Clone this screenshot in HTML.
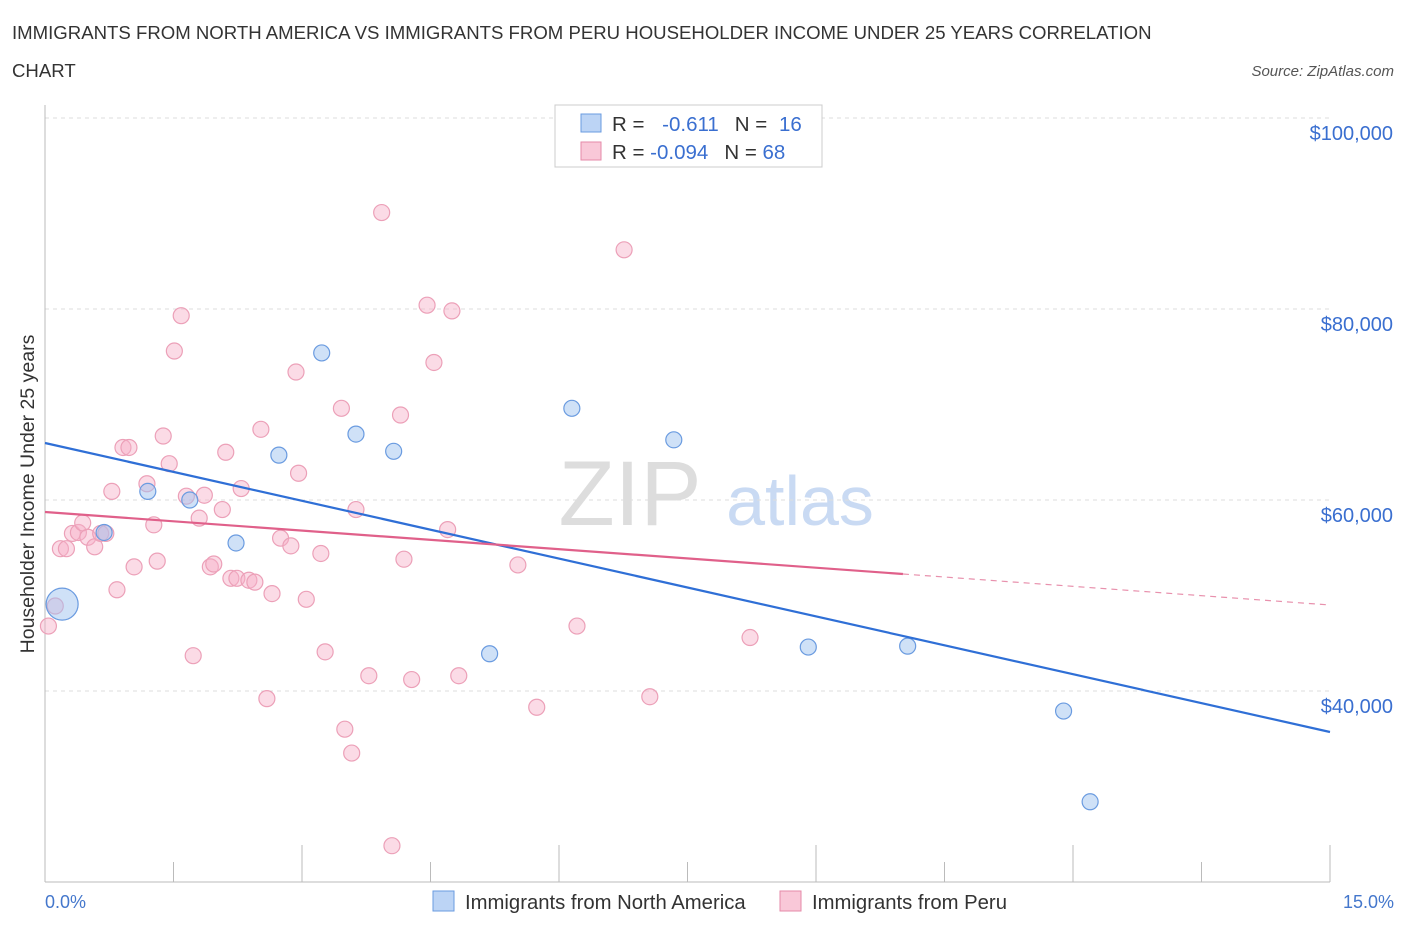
<!DOCTYPE html>
<html><head><meta charset="utf-8"><style>
body{margin:0;background:#fff;font-family:"Liberation Sans",sans-serif}
svg text{font-family:"Liberation Sans",sans-serif}
</style></head><body>
<svg id="chart" width="1406" height="930" xmlns="http://www.w3.org/2000/svg">
<text x="12" y="39" font-size="18.6" fill="#333">IMMIGRANTS FROM NORTH AMERICA VS IMMIGRANTS FROM PERU HOUSEHOLDER INCOME UNDER 25 YEARS CORRELATION</text>
<text x="12" y="77" font-size="18.6" fill="#333">CHART</text>
<text x="1394" y="76" font-size="15" fill="#555" font-style="italic" text-anchor="end">Source: ZipAtlas.com</text>
<text x="630" y="525" font-size="92" fill="#ddd" font-family="Liberation Serif" text-anchor="middle">ZIP</text>
<text x="800" y="525" font-size="70" fill="#c9daf3" text-anchor="middle">atlas</text>
<g id="grid"></g><g id="axes"></g><g id="marks"></g>
<text transform="translate(34,494) rotate(-90)" font-size="19.5" fill="#333" text-anchor="middle">Householder Income Under 25 years</text>
<text x="45" y="908" font-size="18" fill="#4477cc">0.0%</text>
<text x="1394" y="908" font-size="18" fill="#4477cc" text-anchor="end">15.0%</text>
<g>
<rect x="555" y="105" width="267" height="62" fill="#fff" stroke="#ccc"/>
<rect x="581" y="114" width="20" height="18" fill="#bcd4f5" stroke="#6a9be0"/>
<rect x="581" y="142" width="20" height="18" fill="#f9c8d8" stroke="#e58aa8"/>
<text x="612" y="131" font-size="20.5" fill="#333">R = <tspan fill="#3a6fd0" dx="12">-0.611</tspan><tspan dx="16" fill="#333">N = </tspan><tspan fill="#3a6fd0" dx="6">16</tspan></text>
<text x="612" y="159" font-size="20.5" fill="#333">R = <tspan fill="#3a6fd0">-0.094</tspan><tspan dx="16" fill="#333">N = </tspan><tspan fill="#3a6fd0">68</tspan></text>
</g>
<g>
<rect x="433" y="891" width="21" height="20" fill="#bcd4f5" stroke="#6a9be0"/>
<text x="465" y="909" font-size="20.3" fill="#333">Immigrants from North America</text>
<rect x="780" y="891" width="21" height="20" fill="#f9c8d8" stroke="#e58aa8"/>
<text x="812" y="909" font-size="20.3" fill="#333">Immigrants from Peru</text>
</g>
</svg>
<script>
const yTicks=[40000,60000,80000,100000];
const yTickLabels=["$40,000","$60,000","$80,000","$100,000"];
const blueX=[0.2,0.69,1.2,1.69,2.23,2.73,3.23,3.63,4.07,5.19,6.15,7.34,8.91,10.07,11.89,12.2];
const blueY=[49100,56600,60900,60000,55500,64700,75400,66900,65100,43900,69600,66300,44600,44700,37900,28400];
const blueSize=[16,8,8,8,8,8,8,8,8,8,8,8,8,8,8,8];
const pinkX=[0.04,0.12,0.18,0.25,0.32,0.39,0.44,0.5,0.58,0.65,0.71,0.78,0.84,0.91,0.98,1.04,1.19,1.27,1.31,1.38,1.45,1.51,1.59,1.65,1.73,1.8,1.86,1.93,1.97,2.07,2.11,2.17,2.24,2.29,2.38,2.45,2.52,2.59,2.65,2.75,2.87,2.93,2.96,3.05,3.22,3.27,3.46,3.5,3.58,3.63,3.78,3.93,4.05,4.15,4.19,4.28,4.46,4.54,4.7,4.75,4.83,5.52,5.74,6.21,6.76,7.06,8.23];
const pinkY=[46800,48900,54900,54900,56500,56600,57600,56100,55100,56500,56500,60900,50600,65500,65500,53000,61700,57400,53600,66700,63800,75600,79300,60400,43700,58100,60500,53000,53300,59000,65000,51800,51800,61200,51600,51400,67400,39200,50200,56000,55200,73400,62800,49600,54400,44100,69600,36000,33500,59000,41600,90100,23800,68900,53800,41200,80400,74400,56900,79800,41600,53200,38300,46800,86200,39400,45600];
const blueLine=[[0,65969],[15,35707]];
const pinkSolid=[[0,58743],[10.015,52251]];
const pinkDash=[[10.015,52251],[15,49005]];
const NS="http://www.w3.org/2000/svg";
const xs=p=>45+p*1285/15;
const ys=v=>691-(v-40000)*191/20000;
function mk(t,a,parent){const e=document.createElementNS(NS,t);for(const k in a)e.setAttribute(k,a[k]);document.getElementById(parent).appendChild(e);return e;}
yTicks.forEach((v,i)=>{
  const g=mk('line',{x1:45,x2:1330,y1:ys(v),y2:ys(v),stroke:'#ddd','stroke-dasharray':'4,4'},'grid');
  
  
  const t=mk('text',{x:1393,y:ys(v)+22,'font-size':20,fill:'#3a6fd0','text-anchor':'end'},'grid');
  t.textContent=yTickLabels[i];
  
  
});
const ax=mk('line',{x1:45,x2:1330,y1:882,y2:882,stroke:'#bbb'},'axes');


const ay=mk('line',{x1:45,x2:45,y1:105,y2:882,stroke:'#bbb'},'axes');


for(let i=0;i<=10;i++){const tk=mk('line',{x1:xs(i*1.5),x2:xs(i*1.5),y1:882,y2:i%2?862:845,stroke:'#bbb'},'axes');
  
  }
pinkX.forEach((x,i)=>{const c=mk('circle',{cx:xs(x),cy:ys(pinkY[i]),r:8,fill:'rgba(246,176,200,0.45)',stroke:'#eca0b8','stroke-width':1.2},'marks');
  
  });
blueX.forEach((x,i)=>{const c=mk('circle',{cx:xs(x),cy:ys(blueY[i]),r:blueSize[i],fill:'rgba(160,195,240,0.5)',stroke:'#6a9be0','stroke-width':1.2},'marks');
  
  });
const bl=mk('line',{x1:xs(blueLine[0][0]),y1:ys(blueLine[0][1]),x2:xs(blueLine[1][0]),y2:ys(blueLine[1][1]),stroke:'#2f6fd6','stroke-width':2.2},'marks');


const pl=mk('line',{x1:xs(pinkSolid[0][0]),y1:ys(pinkSolid[0][1]),x2:xs(pinkSolid[1][0]),y2:ys(pinkSolid[1][1]),stroke:'#e0608a','stroke-width':2.2},'marks');


const pd=mk('line',{x1:xs(pinkDash[0][0]),y1:ys(pinkDash[0][1]),x2:xs(pinkDash[1][0]),y2:ys(pinkDash[1][1]),stroke:'#e891ad','stroke-width':1.2,'stroke-dasharray':'6,5'},'marks');


</script>
</body></html>
